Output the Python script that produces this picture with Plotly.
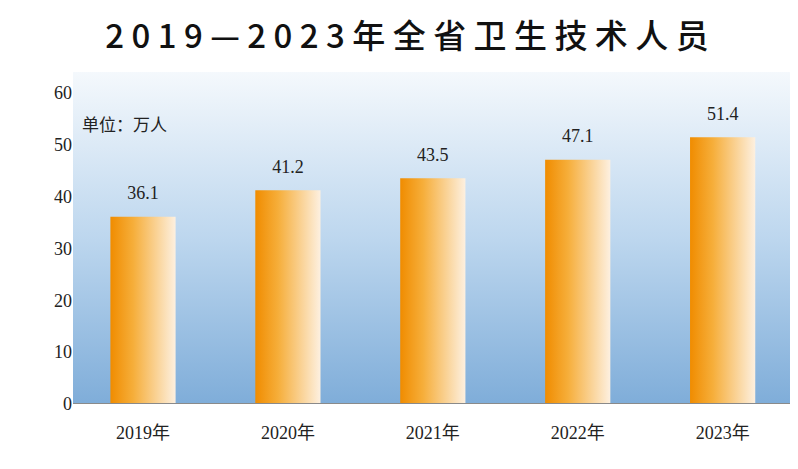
import plotly.graph_objects as go

years = ["2019年", "2020年", "2021年", "2022年", "2023年"]
values = [36.1, 41.2, 43.5, 47.1, 51.4]
yticks = [0, 10, 20, 30, 40, 50, 60]
title = "2019—2023年全省卫生技术人员"

fig = go.Figure()

# background gradient
fig.add_trace(go.Scatter(x=[-0.6, 4.7, 4.7, -0.6, -0.6], y=[0, 0, 70, 70, 0], mode="lines",
                         line=dict(width=0), fill="toself", hoverinfo="skip", showlegend=False,
                         fillgradient=dict(type="vertical",
                                           colorscale=[[0, "#7fadd9"], [0.45, "#bcd6ee"], [1, "#ffffff"]])))

hw = 0.225
for i, v in enumerate(values):
    fig.add_trace(go.Scatter(x=[i - hw, i + hw, i + hw, i - hw, i - hw], y=[0, 0, v, v, 0], mode="lines",
                             line=dict(width=0), fill="toself", hoverinfo="skip", showlegend=False,
                             fillgradient=dict(type="horizontal",
                                               colorscale=[[0, "#f08c00"], [0.35, "#f6ae3a"], [1, "#fdf0e0"]])))

fig.add_trace(go.Scatter(x=list(range(len(values))), y=[v + 4.2 for v in values], mode="text",
                         text=[f"{v}" for v in values], showlegend=False,
                         textfont=dict(family="Liberation Serif", size=18, color="#222")))

fig.add_annotation(x=0.01, y=0.89, xref="paper", yref="paper", text="单位：万人", showarrow=False,
                   xanchor="left", font=dict(family="Noto Sans CJK SC", size=17, color="#222"))

fig.update_layout(
    width=798, height=469, margin=dict(l=65, r=8, t=64, b=73),
    paper_bgcolor="white", plot_bgcolor="white",
    title=dict(text=" ".join(title), x=0.5, y=0.965, xanchor="center", yanchor="top",
               font=dict(family="Noto Sans CJK SC", size=33, color="#111", weight=500)),
    xaxis=dict(range=[-0.483, 4.52], tickvals=list(range(len(years))), ticktext=years, showgrid=False,
               zeroline=False, showline=False, ticks="", ticklabelstandoff=16,
               tickfont=dict(family="Liberation Serif, Noto Sans CJK SC", size=18, color="#222")),
    yaxis=dict(range=[0, 64], tickvals=yticks, showgrid=False, zeroline=False, showline=False,
               ticks="", tickfont=dict(family="Liberation Serif", size=18, color="#222")),
)
fig.add_hline(y=0, line=dict(color="#8a8a8a", width=2))

fig.write_html("out.html")
